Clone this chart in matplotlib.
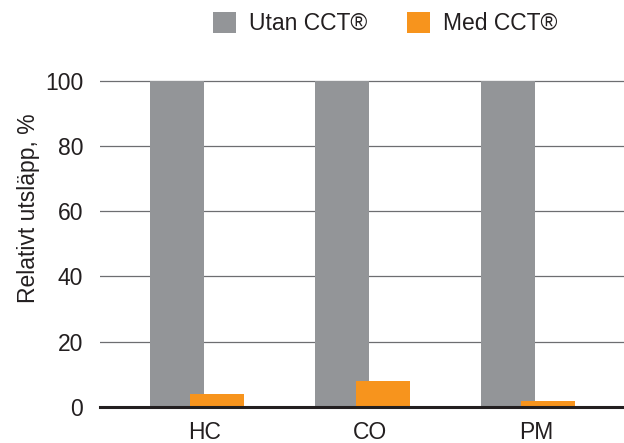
import numpy as np
import matplotlib.pyplot as plt

plt.rcParams['font.family'] = ['Liberation Sans', 'DejaVu Sans']

# data
categories = ['HC', 'CO', 'PM']
utan_cct = [100, 100, 100]
med_cct = [4, 8, 1.8]
yticks = [0, 20, 40, 60, 80, 100]

gray = '#939598'
orange = '#f7941d'
dark = '#231f20'

fig = plt.figure(figsize=(6.24, 4.43), dpi=100)
ax = fig.add_axes([100 / 624, 36 / 443, 524 / 624, 342.8 / 443])

x = np.arange(len(categories))
w = 0.326
off = 0.121
ax.bar(x - off, utan_cct, w, color=gray, zorder=2, label='Utan CCT®')
ax.bar(x + off, med_cct, w, color=orange, zorder=3, label='Med CCT®')

ax.set_xlim(-0.586, 2.58)
ax.set_ylim(0, 105)
ax.set_yticks(yticks)
ax.set_xticks(x + 0.048)
ax.set_xticklabels(categories)

for s in ['top', 'right', 'left']:
    ax.spines[s].set_visible(False)
ax.spines['bottom'].set_color(dark)
ax.spines['bottom'].set_linewidth(2.2)
ax.spines['bottom'].set_zorder(4)

for v in yticks[1:]:
    ax.axhline(v, color='#6d6e71', lw=0.9, zorder=1)

ax.tick_params(axis='both', length=0, labelsize=16.5, colors=dark)
ax.tick_params(axis='y', pad=12)
ax.tick_params(axis='x', pad=10)

ax.set_ylabel('Relativt utsläpp, %', fontsize=16.5, color=dark)
ax.yaxis.set_label_coords(-0.114, 0.58)

fig.legend(loc='center', bbox_to_anchor=(0.617, 0.946), ncol=2, frameon=False,
           fontsize=16.5, handlelength=1.0, handleheight=1.0, handletextpad=0.55,
           columnspacing=1.75, borderpad=0, labelcolor=dark)

fig.savefig('out.png', dpi=100)
